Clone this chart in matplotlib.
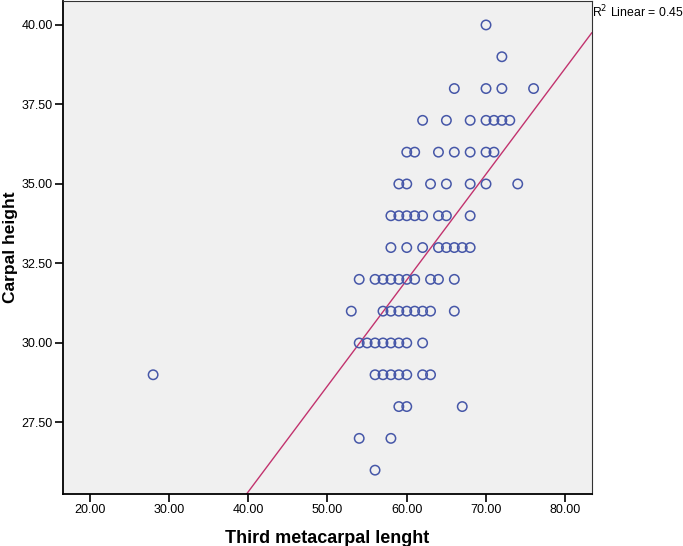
import matplotlib
matplotlib.use('Agg')
import numpy as np
import matplotlib.pyplot as plt

plt.rcParams['font.family'] = ['Liberation Sans', 'DejaVu Sans']

# data, grouped by carpal height row
carpal_height = [40, 39, 38, 37, 36, 35, 34, 33, 32, 31, 30, 29, 28, 27, 26]
metacarpal_rows = [
    [70],
    [72],
    [66, 70, 72, 76],
    [62, 65, 68, 70, 71, 72, 73],
    [60, 61, 64, 66, 68, 70, 71],
    [59, 60, 63, 65, 68, 70, 74],
    [58, 59, 60, 61, 62, 64, 65, 68],
    [58, 60, 62, 64, 65, 66, 67, 68],
    [54, 56, 57, 58, 59, 60, 61, 63, 64, 66],
    [53, 57, 58, 59, 60, 61, 62, 63, 66],
    [54, 55, 56, 57, 58, 59, 60, 62],
    [28, 56, 57, 58, 59, 60, 62, 63],
    [59, 60, 67],
    [54, 58],
    [56],
]
x_ticks = [20, 30, 40, 50, 60, 70, 80]
y_ticks = [27.5, 30, 32.5, 35, 37.5, 40]

# fit line as reported on the chart (overlapping cases hide some points,
# so a refit of the visible points comes out a bit flatter)
fit_slope = 0.333
fit_intercept = 12.0
r2_linear = 0.45

xs = np.array([v for row in metacarpal_rows for v in row], dtype=float)
ys = np.array([h for h, row in zip(carpal_height, metacarpal_rows) for _ in row], dtype=float)

fig = plt.figure(figsize=(6.83, 5.46), dpi=100, facecolor='white')
ax = fig.add_axes([0.0927, 0.0952, 0.7736, 0.9028])
ax.set_facecolor('#f0f0f0')

ax.scatter(xs, ys, s=46, facecolors='none', edgecolors='#4657a8',
           linewidths=1.1, zorder=3)

xlim = (16.67, 83.33)
xl = np.array(xlim)
ax.plot(xl, fit_slope * xl + fit_intercept, color='#c2336e', linewidth=1.0, zorder=2)

ax.set_xlim(*xlim)
ax.set_ylim(25.25, 40.75)
ax.set_xticks(x_ticks)
ax.set_yticks(y_ticks)
ax.set_xticklabels([f'{v:.2f}' for v in x_ticks], fontsize=9)
ax.set_yticklabels([f'{v:.2f}' for v in y_ticks], fontsize=9)
ax.tick_params(direction='out', length=5.5, width=1.2, color='black', pad=2)

for side in ('left', 'bottom'):
    ax.spines[side].set_linewidth(1.3)
for side in ('top', 'right'):
    ax.spines[side].set_linewidth(0.8)
    ax.spines[side].set_color('#333333')

ax.set_xlabel('Third metacarpal lenght', fontsize=13, fontweight='bold')
ax.set_ylabel('Carpal height', fontsize=12.5, fontweight='bold')
ax.xaxis.set_label_coords(0.5, -0.072)
ax.yaxis.set_label_coords(-0.085, 0.5)

fig.text(0.867, 0.978, f'R$^2$ Linear = {r2_linear:.2f}', fontsize=8.8,
         ha='left', va='center')

fig.savefig('out.png', dpi=100, facecolor=fig.get_facecolor())
